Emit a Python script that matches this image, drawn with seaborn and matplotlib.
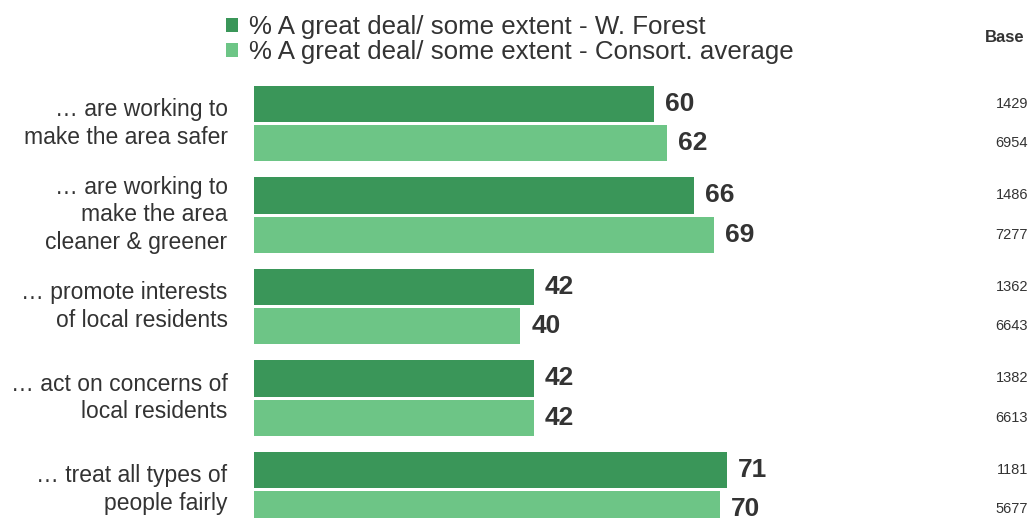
import seaborn as sns
import pandas as pd
import matplotlib.pyplot as plt
import matplotlib.transforms as mtransforms

#-----------------------------------------------------------------------------------------------------------------------
"""Data"""
items = ['… are working to\nmake the area safer',
         '… are working to\nmake the area\ncleaner & greener',
         '… promote interests\nof local residents',
         '… act on concerns of\nlocal residents',
         '… treat all types of\npeople fairly']
series = ['% A great deal/ some extent - W. Forest',
          '% A great deal/ some extent - Consort. average']
forest_vals = [60, 66, 42, 42, 71]
consort_vals = [62, 69, 40, 42, 70]
forest_base = [1429, 1486, 1362, 1382, 1181]
consort_base = [6954, 7277, 6643, 6613, 5677]

df = pd.DataFrame({
    'item': items * 2,
    'series': [series[0]] * len(items) + [series[1]] * len(items),
    'value': forest_vals + consort_vals,
})

#-----------------------------------------------------------------------------------------------------------------------
"""Figure"""
colors = ['#3a9659', '#6dc586']
MyFont = 'Liberation Sans'
plt.rcParams['font.family'] = [MyFont, 'DejaVu Sans']

fig = plt.figure(figsize=(10.33, 5.18), dpi=100)
fig.patch.set_facecolor('white')
ax = fig.add_axes([254 / 1033, 0, (950 - 254) / 1033, (518 - 77.75) / 518])

sns.barplot(data=df, y='item', x='value', hue='series', orient='h', palette=colors,
            width=0.857, gap=0.077, ax=ax, saturation=1)

ax.set_xlim(0, (950 - 254) / 6.66)
ax.set_ylim(4.311, -0.5)

# value labels
for cont in ax.containers:
    ax.bar_label(cont, padding=8, fontsize=19, fontweight='bold', color='#333333')

# base column
trans = mtransforms.blended_transform_factory(fig.transFigure, ax.transData)
bases = [forest_base, consort_base]
for cont, b in zip(ax.containers, bases):
    for patch, val in zip(cont.patches, b):
        yc = patch.get_y() + patch.get_height() / 2
        ax.text(1028 / 1033, yc, str(val), transform=trans, ha='right', va='center',
                fontsize=10.5, color='#333333', clip_on=False)
fig.text(1025 / 1033, 1 - 38 / 518, 'Base', ha='right', va='center', fontsize=12,
         fontweight='bold', color='#333333')

#-----------------------------------------------------------------------------------------------------------------------
"""Axes and legend"""
ax.set_xlabel('')
ax.set_ylabel('')
ax.set_xticks([])
ax.tick_params(axis='y', length=0, pad=19, labelsize=16.5, labelcolor='#333333')
# nudge category labels up a little
shift = mtransforms.ScaledTranslation(0, 5 / 100, fig.dpi_scale_trans)
for t in ax.get_yticklabels():
    t.set_linespacing(1.25)
    t.set_transform(t.get_transform() + shift)
for s in ax.spines.values():
    s.set_visible(False)

handles, labels = ax.get_legend_handles_labels()
ax.get_legend().remove()
fig.legend(handles, labels, loc='upper left', bbox_to_anchor=(213 / 1033, 1 - 2 / 518),
           frameon=False, fontsize=18.6, handlelength=0.45, handleheight=0.45,
           handletextpad=0.45, labelspacing=0.05, borderpad=0, labelcolor='#333333')

fig.savefig('out.png', dpi=100)
